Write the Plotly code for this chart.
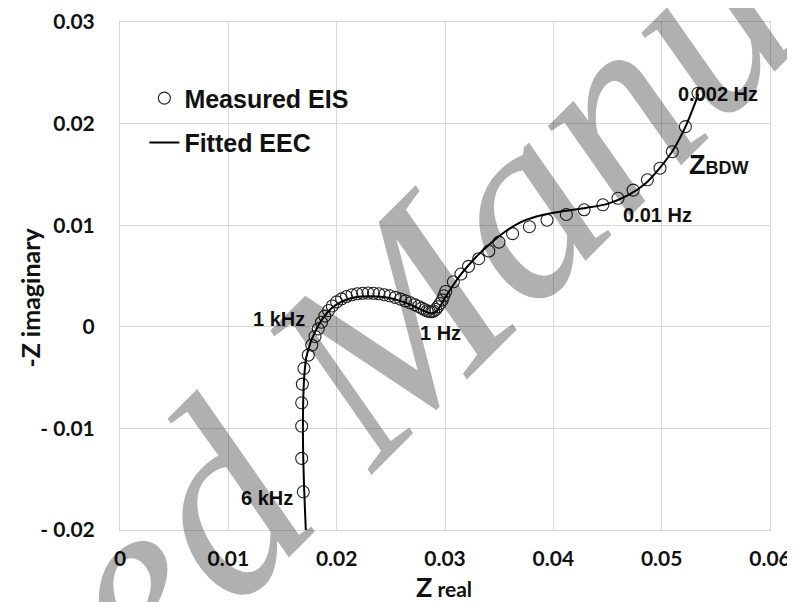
import plotly.graph_objects as go

# Measured EIS (Z real, -Z imaginary)
meas_zreal = [0.01692, 0.01677, 0.01677, 0.01677, 0.01683, 0.01698, 0.01738, 0.01770, 0.01800, 0.01830,
              0.01860, 0.01890, 0.01925, 0.01960, 0.02000, 0.02045, 0.02090, 0.02140, 0.02190, 0.02240,
              0.02290, 0.02340, 0.02390, 0.02440, 0.02490, 0.02540, 0.02590, 0.02635, 0.02680, 0.02720,
              0.02755, 0.02785, 0.02810, 0.02835, 0.02855, 0.02875, 0.02895, 0.02915, 0.02935, 0.02955,
              0.02975, 0.02990, 0.03007, 0.03077, 0.03147, 0.03217, 0.03311, 0.03404, 0.03498, 0.03624,
              0.03779, 0.03942, 0.04120, 0.04284, 0.04457, 0.04597, 0.04737, 0.04868, 0.04985, 0.05098,
              0.05219, 0.05336]
meas_zimag = [-0.01624, -0.01295, -0.00977, -0.00748, -0.00564, -0.00409, -0.00279, -0.00180, -0.00095, -0.00020,
              0.00045, 0.00105, 0.00160, 0.00205, 0.00245, 0.00275, 0.00298, 0.00315, 0.00325, 0.00330,
              0.00332, 0.00330, 0.00325, 0.00316, 0.00305, 0.00290, 0.00272, 0.00255, 0.00236, 0.00218,
              0.00200, 0.00184, 0.00170, 0.00158, 0.00150, 0.00148, 0.00155, 0.00172, 0.00198, 0.00230,
              0.00265, 0.00305, 0.00348, 0.00443, 0.00519, 0.00595, 0.00670, 0.00746, 0.00833, 0.00917,
              0.00985, 0.01049, 0.01106, 0.01152, 0.01201, 0.01265, 0.01345, 0.01447, 0.01561, 0.01723,
              0.01970, 0.02299]

# Fitted EEC curve
fit_zreal = [0.01715, 0.01700, 0.01690, 0.01690, 0.01700, 0.01720, 0.01760, 0.01810, 0.01870, 0.01950,
             0.02050, 0.02170, 0.02300, 0.02450, 0.02600, 0.02720, 0.02820, 0.02880, 0.02930, 0.02980,
             0.03050, 0.03150, 0.03280, 0.03420, 0.03560, 0.03720, 0.03900, 0.04100, 0.04300, 0.04500,
             0.04700, 0.04850, 0.04980, 0.05100, 0.05220, 0.05340]
fit_zimag = [-0.0200, -0.0160, -0.0120, -0.0080, -0.0050, -0.0030, -0.0015, -0.0003, 0.0008, 0.0018,
             0.0025, 0.0029, 0.0030, 0.0029, 0.0025, 0.0020, 0.0015, 0.0013, 0.0016, 0.0025,
             0.0037, 0.0052, 0.0068, 0.0082, 0.0094, 0.0104, 0.0110, 0.0114, 0.0117, 0.0121,
             0.0130, 0.0141, 0.0156, 0.0173, 0.0197, 0.0229]

x_ticks = [0, 0.01, 0.02, 0.03, 0.04, 0.05, 0.06]
x_ticktext = ["0", "0.01", "0.02", "0.03", "0.04", "0.05", "0.06"]
y_ticks = [-0.02, -0.01, 0, 0.01, 0.02, 0.03]
y_ticktext = ["- 0.02", "- 0.01", "0", "0.01", "0.02", "0.03"]

# frequency labels: (text, x, y)
freq_labels = [("0.002 Hz", 0.05520, 0.02290), ("0.01 Hz", 0.04960, 0.01100),
               ("1 kHz", 0.01465, 0.00080), ("1 Hz", 0.02955, -0.00065), ("6 kHz", 0.01360, -0.01685)]

TICKFONT = "Lato"
SANS = "Liberation Sans"

fig = go.Figure()
fig.add_trace(go.Scatter(
    x=meas_zreal, y=meas_zimag, mode="markers", name="Measured EIS",
    marker=dict(symbol="circle-open", size=12, color="#222222", line=dict(width=1.1)),
    legendgroup="a"))
fig.add_trace(go.Scatter(
    x=fit_zreal, y=fit_zimag, mode="lines", name="Fitted EEC",
    line=dict(color="black", width=2, shape="spline", smoothing=0.8),
    legendgroup="b"))

annotations = []
for t, xx, yy in freq_labels:
    annotations.append(dict(x=xx, y=yy, xref="x", yref="y", text=t, showarrow=False,
                            font=dict(family=SANS, size=20, color="#111111", weight="bold")))
annotations.append(dict(x=0.05525, y=0.01595, xref="x", yref="y", showarrow=False,
                        text="<span style='font-size:27px'>Z</span><span style='font-size:18px'>BDW</span>",
                        font=dict(family=SANS, size=18, color="#111111", weight="bold")))
annotations.append(dict(x=-0.165, y=0.457, xref="paper", yref="paper", showarrow=False, textangle=-90,
                        text="-Z imaginary",
                        font=dict(family=TICKFONT, size=25, color="#111111", weight="bold")))
annotations.append(dict(x=0.4985, y=-0.147, xref="paper", yref="paper", showarrow=False,
                        text="<span style='font-size:27px'>Z</span> <span style='font-size:21px'>real</span>",
                        font=dict(family=TICKFONT, size=21, color="#111111", weight="bold")))
# watermark
annotations.append(dict(x=0.39, y=0.36, xref="paper", yref="paper", showarrow=False, textangle=-45,
                        text="Accepted Manuscript",
                        font=dict(family="Liberation Serif", size=265, style="italic",
                                  color="rgba(0,0,0,0.31)")))

# the page body adds an 8px offset, so margins are set to put the plot area at
# x 120..770 and y 22..530 in the 795x602 view
fig.update_layout(
    width=795, height=602,
    margin=dict(l=112, r=33, t=14, b=80),
    paper_bgcolor="white", plot_bgcolor="white",
    showlegend=True,
    legend=dict(x=0.0375, y=0.895, xanchor="left", yanchor="top",
                bgcolor="rgba(0,0,0,0)", tracegroupgap=9, traceorder="grouped",
                font=dict(family=SANS, size=25, color="#111111", weight="bold")),
    annotations=annotations,
)
fig.update_xaxes(range=[0, 0.06], tickvals=x_ticks, ticktext=x_ticktext, automargin=False,
                 showgrid=True, gridcolor="#d9d9d9", gridwidth=1, zeroline=False,
                 showline=True, linecolor="#d9d9d9", mirror=True, ticks="",
                 ticklabelstandoff=10,
                 tickfont=dict(family=TICKFONT, size=21, color="#111111", weight="bold"))
fig.update_yaxes(range=[-0.02, 0.03], tickvals=y_ticks, ticktext=y_ticktext, automargin=False,
                 showgrid=True, gridcolor="#d9d9d9", gridwidth=1, zeroline=False,
                 showline=True, linecolor="#d9d9d9", mirror=True, ticks="",
                 ticklabelstandoff=20,
                 tickfont=dict(family=TICKFONT, size=21, color="#111111", weight="bold"))

fig.write_html("out.html")
